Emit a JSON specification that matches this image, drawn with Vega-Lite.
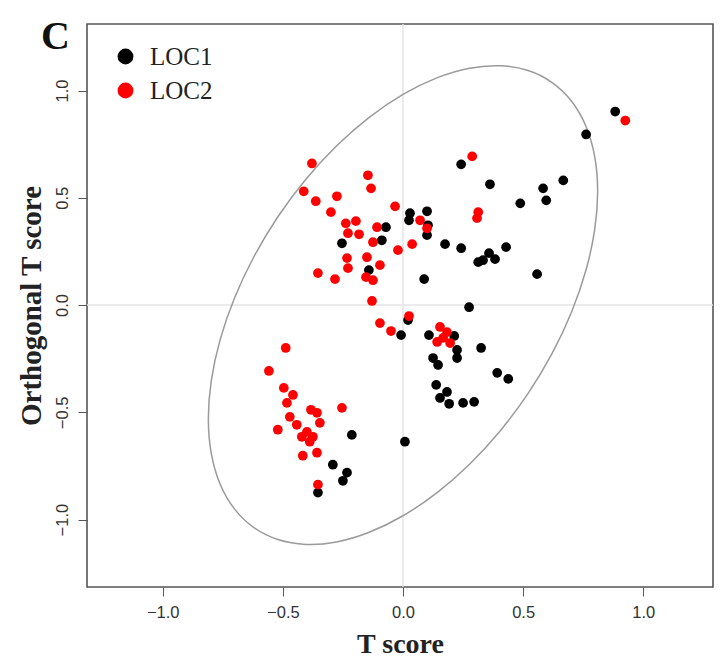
{
  "$schema": "https://vega.github.io/schema/vega-lite/v6.json",
  "width": 626,
  "height": 563,
  "autosize": {"type": "none"},
  "padding": {"left": 87, "top": 24, "right": 10, "bottom": 80},
  "background": "white",
  "title": {"text": "C", "anchor": "start", "frame": "group", "orient": "top", "font": "Liberation Serif", "fontSize": 40, "fontWeight": "bold", "color": "#111", "dx": -46, "dy": 44, "offset": -22, "baseline": "alphabetic"},
  "config": {"view": {"stroke": "#555", "strokeWidth": 1.6}},
  "datasets": {
    "zero": [{"v": 0}],
    "ellipse": [
      {"i": 0, "x": 0.81, "y": 0.53}, {"i": 1, "x": 0.7977, "y": 0.6924}, {"i": 2, "x": 0.7612, "y": 0.8338},
      {"i": 3, "x": 0.7015, "y": 0.95}, {"i": 4, "x": 0.6205, "y": 1.0372}, {"i": 5, "x": 0.5207, "y": 1.0929},
      {"i": 6, "x": 0.405, "y": 1.1154}, {"i": 7, "x": 0.277, "y": 1.1041}, {"i": 8, "x": 0.1406, "y": 1.0591},
      {"i": 9, "x": 0, "y": 0.982}, {"i": 10, "x": -0.1406, "y": 0.8751}, {"i": 11, "x": -0.277, "y": 0.7415},
      {"i": 12, "x": -0.405, "y": 0.5854}, {"i": 13, "x": -0.5207, "y": 0.4115}, {"i": 14, "x": -0.6205, "y": 0.2252},
      {"i": 15, "x": -0.7015, "y": 0.032}, {"i": 16, "x": -0.7612, "y": -0.1622}, {"i": 17, "x": -0.7977, "y": -0.3514},
      {"i": 18, "x": -0.81, "y": -0.53}, {"i": 19, "x": -0.7977, "y": -0.6924}, {"i": 20, "x": -0.7612, "y": -0.8338},
      {"i": 21, "x": -0.7015, "y": -0.95}, {"i": 22, "x": -0.6205, "y": -1.0372}, {"i": 23, "x": -0.5207, "y": -1.0929},
      {"i": 24, "x": -0.405, "y": -1.1154}, {"i": 25, "x": -0.277, "y": -1.1041}, {"i": 26, "x": -0.1406, "y": -1.0591},
      {"i": 27, "x": 0, "y": -0.982}, {"i": 28, "x": 0.1406, "y": -0.8751}, {"i": 29, "x": 0.277, "y": -0.7415},
      {"i": 30, "x": 0.405, "y": -0.5854}, {"i": 31, "x": 0.5207, "y": -0.4115}, {"i": 32, "x": 0.6205, "y": -0.2252},
      {"i": 33, "x": 0.7015, "y": -0.032}, {"i": 34, "x": 0.7612, "y": 0.1622}, {"i": 35, "x": 0.7977, "y": 0.3514}
    ],
    "scores": [
      {"g": "LOC1", "x": 0.883, "y": 0.902}, {"g": "LOC1", "x": 0.762, "y": 0.795}, {"g": "LOC1", "x": 0.242, "y": 0.656},
      {"g": "LOC1", "x": 0.362, "y": 0.563}, {"g": "LOC1", "x": 0.667, "y": 0.581}, {"g": "LOC1", "x": 0.583, "y": 0.544},
      {"g": "LOC1", "x": 0.596, "y": 0.488}, {"g": "LOC1", "x": 0.488, "y": 0.474}, {"g": "LOC1", "x": 0.1, "y": 0.437},
      {"g": "LOC1", "x": 0.029, "y": 0.428}, {"g": "LOC1", "x": 0.025, "y": 0.395}, {"g": "LOC1", "x": -0.071, "y": 0.363},
      {"g": "LOC1", "x": -0.088, "y": 0.302}, {"g": "LOC1", "x": -0.254, "y": 0.288}, {"g": "LOC1", "x": -0.142, "y": 0.163},
      {"g": "LOC1", "x": 0.175, "y": 0.284}, {"g": "LOC1", "x": 0.242, "y": 0.265}, {"g": "LOC1", "x": 0.429, "y": 0.27},
      {"g": "LOC1", "x": 0.358, "y": 0.242}, {"g": "LOC1", "x": 0.383, "y": 0.214}, {"g": "LOC1", "x": 0.313, "y": 0.2},
      {"g": "LOC1", "x": 0.333, "y": 0.209}, {"g": "LOC1", "x": 0.558, "y": 0.144}, {"g": "LOC1", "x": 0.088, "y": 0.121},
      {"g": "LOC1", "x": 0.275, "y": -0.01}, {"g": "LOC1", "x": 0.021, "y": -0.07}, {"g": "LOC1", "x": -0.008, "y": -0.14},
      {"g": "LOC1", "x": 0.108, "y": -0.14}, {"g": "LOC1", "x": 0.213, "y": -0.144}, {"g": "LOC1", "x": 0.225, "y": -0.209},
      {"g": "LOC1", "x": 0.225, "y": -0.247}, {"g": "LOC1", "x": 0.325, "y": -0.2}, {"g": "LOC1", "x": 0.125, "y": -0.247},
      {"g": "LOC1", "x": 0.146, "y": -0.279}, {"g": "LOC1", "x": 0.138, "y": -0.372}, {"g": "LOC1", "x": 0.392, "y": -0.316},
      {"g": "LOC1", "x": 0.438, "y": -0.344}, {"g": "LOC1", "x": 0.183, "y": -0.405}, {"g": "LOC1", "x": 0.154, "y": -0.433},
      {"g": "LOC1", "x": 0.192, "y": -0.46}, {"g": "LOC1", "x": 0.25, "y": -0.456}, {"g": "LOC1", "x": 0.296, "y": -0.451},
      {"g": "LOC1", "x": -0.213, "y": -0.605}, {"g": "LOC1", "x": 0.008, "y": -0.637}, {"g": "LOC1", "x": -0.292, "y": -0.744},
      {"g": "LOC1", "x": -0.233, "y": -0.781}, {"g": "LOC1", "x": -0.25, "y": -0.819}, {"g": "LOC1", "x": -0.354, "y": -0.874},
      {"g": "LOC1", "x": 0.104, "y": 0.372}, {"g": "LOC1", "x": 0.1, "y": 0.326},
      {"g": "LOC2", "x": 0.925, "y": 0.86}, {"g": "LOC2", "x": 0.288, "y": 0.693}, {"g": "LOC2", "x": 0.313, "y": 0.433},
      {"g": "LOC2", "x": 0.308, "y": 0.405}, {"g": "LOC2", "x": -0.379, "y": 0.66}, {"g": "LOC2", "x": -0.146, "y": 0.605},
      {"g": "LOC2", "x": -0.413, "y": 0.53}, {"g": "LOC2", "x": -0.363, "y": 0.484}, {"g": "LOC2", "x": -0.275, "y": 0.507},
      {"g": "LOC2", "x": -0.133, "y": 0.544}, {"g": "LOC2", "x": -0.3, "y": 0.433}, {"g": "LOC2", "x": -0.033, "y": 0.46},
      {"g": "LOC2", "x": -0.238, "y": 0.381}, {"g": "LOC2", "x": -0.196, "y": 0.391}, {"g": "LOC2", "x": -0.108, "y": 0.363},
      {"g": "LOC2", "x": -0.229, "y": 0.335}, {"g": "LOC2", "x": -0.183, "y": 0.33}, {"g": "LOC2", "x": -0.125, "y": 0.293},
      {"g": "LOC2", "x": -0.021, "y": 0.256}, {"g": "LOC2", "x": 0.038, "y": 0.284}, {"g": "LOC2", "x": 0.071, "y": 0.395},
      {"g": "LOC2", "x": 0.1, "y": 0.358}, {"g": "LOC2", "x": -0.233, "y": 0.219}, {"g": "LOC2", "x": -0.229, "y": 0.172},
      {"g": "LOC2", "x": -0.15, "y": 0.223}, {"g": "LOC2", "x": -0.096, "y": 0.186}, {"g": "LOC2", "x": -0.154, "y": 0.13},
      {"g": "LOC2", "x": -0.125, "y": 0.116}, {"g": "LOC2", "x": -0.354, "y": 0.149}, {"g": "LOC2", "x": -0.283, "y": 0.121},
      {"g": "LOC2", "x": -0.129, "y": 0.019}, {"g": "LOC2", "x": -0.096, "y": -0.084}, {"g": "LOC2", "x": -0.05, "y": -0.121},
      {"g": "LOC2", "x": 0.025, "y": -0.051}, {"g": "LOC2", "x": 0.154, "y": -0.102}, {"g": "LOC2", "x": 0.183, "y": -0.126},
      {"g": "LOC2", "x": 0.167, "y": -0.153}, {"g": "LOC2", "x": 0.196, "y": -0.177}, {"g": "LOC2", "x": 0.142, "y": -0.172},
      {"g": "LOC2", "x": -0.488, "y": -0.2}, {"g": "LOC2", "x": -0.558, "y": -0.307}, {"g": "LOC2", "x": -0.496, "y": -0.386},
      {"g": "LOC2", "x": -0.458, "y": -0.419}, {"g": "LOC2", "x": -0.483, "y": -0.456}, {"g": "LOC2", "x": -0.383, "y": -0.488},
      {"g": "LOC2", "x": -0.358, "y": -0.502}, {"g": "LOC2", "x": -0.254, "y": -0.479}, {"g": "LOC2", "x": -0.442, "y": -0.558},
      {"g": "LOC2", "x": -0.4, "y": -0.591}, {"g": "LOC2", "x": -0.375, "y": -0.614}, {"g": "LOC2", "x": -0.346, "y": -0.549},
      {"g": "LOC2", "x": -0.521, "y": -0.581}, {"g": "LOC2", "x": -0.388, "y": -0.637}, {"g": "LOC2", "x": -0.358, "y": -0.688},
      {"g": "LOC2", "x": -0.417, "y": -0.702}, {"g": "LOC2", "x": -0.471, "y": -0.521}, {"g": "LOC2", "x": -0.421, "y": -0.614},
      {"g": "LOC2", "x": -0.354, "y": -0.837}
    ]
  },
  "layer": [
    {
      "data": {"name": "zero"},
      "mark": {"type": "rule", "color": "#e4e4e4", "strokeWidth": 1.5},
      "encoding": {"x": {"field": "v", "type": "quantitative", "scale": {"domain": [-1.315, 1.29], "nice": false, "zero": false}}}
    },
    {
      "data": {"name": "zero"},
      "mark": {"type": "rule", "color": "#e4e4e4", "strokeWidth": 1.5},
      "encoding": {"y": {"field": "v", "type": "quantitative", "scale": {"domain": [-1.314, 1.31], "nice": false, "zero": false}}}
    },
    {
      "data": {"name": "ellipse"},
      "mark": {"type": "line", "color": "#9a9a9a", "strokeWidth": 1.5, "interpolate": "cardinal-closed"},
      "encoding": {
        "x": {"field": "x", "type": "quantitative"},
        "y": {"field": "y", "type": "quantitative"},
        "order": {"field": "i", "type": "quantitative"}
      }
    },
    {
      "data": {"name": "scores"},
      "mark": {"type": "point", "shape": "circle", "filled": true, "size": 95, "opacity": 1},
      "encoding": {
        "x": {"field": "x", "type": "quantitative", "scale": {"domain": [-1.315, 1.29], "nice": false, "zero": false},
          "axis": {"values": [-1, -0.5, 0, 0.5, 1], "format": ".1f", "grid": false, "domain": false, "tickSize": 9, "tickColor": "#555",
            "labelFont": "Liberation Sans", "labelFontSize": 16.5, "labelColor": "#333", "labelPadding": 8,
            "title": "T score", "titleFont": "Liberation Serif", "titleFontSize": 28, "titleFontWeight": "bold", "titleColor": "#222", "titlePadding": 10}},
        "y": {"field": "y", "type": "quantitative", "scale": {"domain": [-1.314, 1.31], "nice": false, "zero": false},
          "axis": {"values": [-1, -0.5, 0, 0.5, 1], "format": ".1f", "grid": false, "domain": false, "tickSize": 9, "tickColor": "#555",
            "labelFont": "Liberation Sans", "labelFontSize": 16.5, "labelColor": "#333", "labelPadding": 8, "labelAngle": -90, "labelAlign": "center", "labelBaseline": "bottom",
            "title": "Orthogonal T score", "titleFont": "Liberation Serif", "titleFontSize": 29, "titleFontWeight": "bold", "titleColor": "#222", "titlePadding": 8}},
        "color": {"field": "g", "type": "nominal", "scale": {"domain": ["LOC1", "LOC2"], "range": ["#000000", "#ff0000"]},
          "legend": {"orient": "none", "legendX": 26, "legendY": 20, "title": null, "symbolType": "circle", "symbolSize": 250, "symbolStrokeWidth": 0,
            "labelFont": "Liberation Serif", "labelFontSize": 25, "labelColor": "#222", "rowPadding": 8, "labelOffset": 12, "padding": 0}}
      }
    }
  ]
}
